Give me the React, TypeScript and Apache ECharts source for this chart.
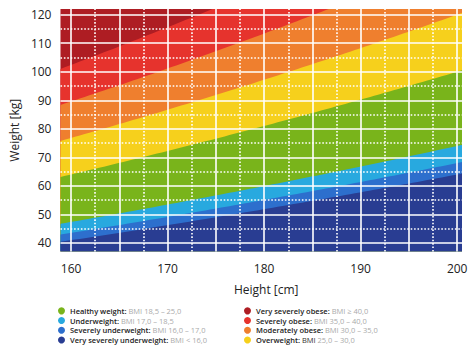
import React, { useEffect, useRef } from "react";
import * as echarts from "echarts";

// BMI category bounds (lower BMI threshold of each band)
const bandNames = [
  "Very severely obese",
  "Severely obese",
  "Moderately obese",
  "Overweight",
  "Healthy weight",
  "Underweight",
  "Severely underweight",
  "Very severely underweight",
];
// upper BMI bound of each band (null = open to the top of the chart)
const bandUpperBMI: (number | null)[] = [null, 40, 35, 30, 25, 18.5, 17, 16];
const bandRanges = [
  "≥ 40,0",
  "35,0 – 40,0",
  "30,0 – 35,0",
  "25,0 – 30,0",
  "18,5 – 25,0",
  "17,0 – 18,5",
  "16,0 – 17,0",
  "< 16,0",
];
const bandColors = [
  "#ae1d23",
  "#e6332d",
  "#ef7f2e",
  "#f6d01c",
  "#79b41b",
  "#28a9df",
  "#2d6fcd",
  "#293d92",
];

const xTickLabels = [160, 170, 180, 190, 200];
const yTickLabels = [40, 50, 60, 70, 80, 90, 100, 110, 120];
const xSolidGrid = [160, 165, 170, 175, 180, 185, 190, 195, 200];
const xDottedGrid = [162.5, 167.5, 172.5, 177.5, 182.5, 187.5, 192.5, 197.5];
const ySolidGrid = [40, 50, 60, 70, 80, 90, 100, 110, 120];
const yDottedGrid = [45, 55, 65, 75, 85, 95, 105, 115];

const X_MIN = 158.9;
const X_MAX = 200.5;
const Y_MIN = 37;
const Y_MAX = 122;

const heights: number[] = [];
for (let h = X_MIN; h <= X_MAX + 1e-9; h += 0.5) heights.push(+h.toFixed(2));
if (heights[heights.length - 1] < X_MAX) heights.push(X_MAX);

const weightAt = (bmi: number, h: number) => bmi * (h / 100) * (h / 100);

export default function App() {
  const ref = useRef<HTMLDivElement>(null);
  useEffect(() => {
    if (!ref.current) return;
    const chart = echarts.init(ref.current, undefined, { renderer: "svg" });
    const font = "'Open Sans', 'Noto Sans', sans-serif";

    const bandSeries = bandNames.map((name, i) => ({
      name,
      type: "line",
      showSymbol: false,
      symbol: "none",
      silent: true,
      color: bandColors[i],
      lineStyle: { width: 0, color: bandColors[i] },
      areaStyle: { color: bandColors[i], opacity: 1, origin: "start" },
      data: heights.map((h) => [
        h,
        bandUpperBMI[i] === null ? Y_MAX : weightAt(bandUpperBMI[i] as number, h),
      ]),
    }));

    const solid = { color: "#ffffff", width: 1.6, type: "solid" };
    const dotted = { color: "#ffffff", width: 1.6, type: [1.6, 1.8] };
    const gridSeries = {
      name: "grid",
      type: "line",
      data: [],
      z: 10,
      silent: true,
      markLine: {
        silent: true,
        symbol: ["none", "none"],
        label: { show: false },
        animation: false,
        data: [
          ...xDottedGrid.map((v) => ({ xAxis: v, lineStyle: dotted })),
          ...yDottedGrid.map((v) => ({ yAxis: v, lineStyle: dotted })),
          ...xSolidGrid.map((v) => ({ xAxis: v, lineStyle: solid })),
          ...ySolidGrid.map((v) => ({ yAxis: v, lineStyle: solid })),
        ],
      },
    };

    const legendFormatter = (name: string) => {
      const i = bandNames.indexOf(name);
      if (name === "Overweight") return `{b|${name}:} {d|BMI} {g|${bandRanges[i]}}`;
      return `{b|${name}:} {g|BMI ${bandRanges[i]}}`;
    };
    const fs = 7.5;
    const lh = 9.7;
    const legendCommon = {
      orient: "vertical",
      icon: "circle",
      itemWidth: 7,
      itemHeight: 7,
      itemGap: 0,
      padding: 0,
      height: 48,
      selectedMode: false,
      formatter: legendFormatter,
      textStyle: {
        fontFamily: font,
        fontSize: fs,
        lineHeight: lh,
        rich: {
          b: { fontFamily: font, fontSize: fs, lineHeight: lh, fontWeight: 600, color: "#222" },
          d: { fontFamily: font, fontSize: fs, lineHeight: lh, color: "#333" },
          g: { fontFamily: font, fontSize: fs, lineHeight: lh, color: "#aaaaaa" },
        },
      },
    };

    chart.setOption({
      animation: false,
      grid: { left: 56, right: 12, top: 9, bottom: 103.5 },
      xAxis: {
        type: "value",
        min: X_MIN,
        max: X_MAX,
        name: "Height [cm]",
        nameLocation: "middle",
        nameGap: 32,
        nameTextStyle: { fontFamily: font, fontSize: 12, color: "#222", padding: [0, 0, 0, 10] },
        axisLine: { show: false },
        axisTick: { show: false },
        splitLine: { show: false },
        axisLabel: {
          customValues: xTickLabels,
          margin: 11,
          fontFamily: font,
          fontSize: 12,
          color: "#222",
        },
      },
      yAxis: {
        type: "value",
        min: Y_MIN,
        max: Y_MAX,
        name: "Weight [kg]",
        nameLocation: "middle",
        nameGap: 37,
        nameTextStyle: { fontFamily: font, fontSize: 12, color: "#222" },
        axisLine: { show: false },
        axisTick: { show: false },
        splitLine: { show: false },
        axisLabel: {
          customValues: yTickLabels,
          margin: 9,
          fontFamily: font,
          fontSize: 12,
          color: "#222",
        },
      },
      legend: [
        {
          ...legendCommon,
          left: 58,
          top: 306,
          data: bandNames.slice(4),
        },
        {
          ...legendCommon,
          left: 244,
          top: 306,
          data: bandNames.slice(0, 4),
        },
      ],
      series: [...bandSeries, gridSeries],
    });
    return () => chart.dispose();
  }, []);
  return (
    <div
      ref={ref}
      style={{ position: "fixed", left: 0, top: 0, width: 474, height: 355, background: "#fff" }}
    />
  );
}
